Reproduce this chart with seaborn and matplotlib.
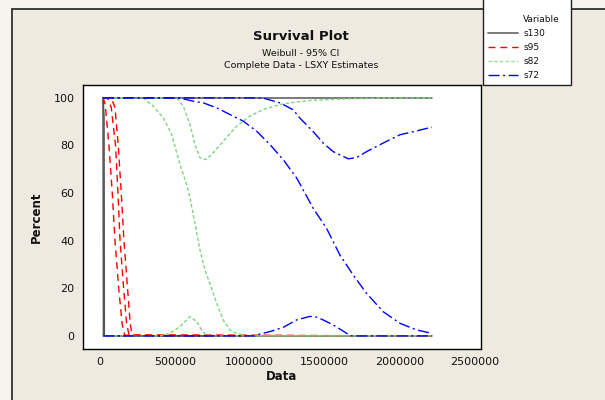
import matplotlib
matplotlib.use("Agg")
import matplotlib.pyplot as plt
from matplotlib.lines import Line2D
from matplotlib.patches import Rectangle
import seaborn as sns
import pandas as pd

# Values (Data, Percent)
s130_lo_x = [20000, 21500, 23000, 2216000]
s130_lo_y = [100, 50, 0, 0]
s130_fit_x = [20000, 27000, 29000, 2216000]
s130_fit_y = [100, 92, 0, 0]
s130_hi_x = [20000, 2216000]
s130_hi_y = [100, 100]

s95_lo_x = [20000, 22000, 35000, 60000, 82000, 100000, 125000, 148000, 165000, 2216000]
s95_lo_y = [100, 100, 97, 80, 60, 40, 20, 5, 0.3, 0]
s95_fit_x = [20000, 50000, 75000, 104000, 120000, 134000, 158000, 178000, 195000, 2216000]
s95_fit_y = [100, 100, 96, 80, 60, 40, 20, 5, 0.3, 0]
s95_hi_x = [20000, 75000, 100000, 122000, 142000, 160000, 184000, 202000, 215000, 2216000]
s95_hi_y = [100, 100, 96, 80, 60, 40, 20, 5, 0.3, 0]

s82_lo_x = [20000, 400000, 467000, 534000, 601000, 645000, 679000, 701000, 734000, 2216000]
s82_lo_y = [0, 0, 1.1, 3.9, 8.1, 6, 2.5, 0.8, 0, 0]
s82_fit_x = [20000, 200000, 289000, 356000, 423000, 479000, 534000, 579000, 601000, 635000,
             668000, 701000, 734000, 779000, 823000, 868000, 913000, 979000, 2216000]
s82_fit_y = [100, 100, 99.9, 96.5, 91.6, 84.6, 72, 63.6, 58, 47,
             36, 27.7, 22, 13.7, 6.7, 2.5, 1, 0, 0]
s82_hi_x = [20000, 512000, 556000, 601000, 634000, 668000, 708000, 756000, 823000, 913000,
            1001000, 1090000, 1202000, 1313000, 1402000, 1600000, 1900000, 2216000]
s82_hi_y = [100, 100, 96.5, 88.8, 80.4, 74.8, 74.1, 76.9, 81.8, 88.1,
            92.3, 95.1, 97.2, 98.3, 98.9, 99.5, 99.9, 100]

s72_lo_x = [20000, 1035000, 1068000, 1135000, 1224000, 1313000, 1402000, 1447000, 1491000,
            1558000, 1647000, 1682000, 2216000]
s72_lo_y = [0, 0, 0.8, 1.8, 3.6, 6.7, 8.2, 7.9, 6.7, 4.6, 1.1, 0, 0]
s72_fit_x = [20000, 450000, 534000, 623000, 690000, 779000, 868000, 957000, 1046000, 1135000,
             1224000, 1313000, 1424000, 1513000, 1602000, 1691000, 1780000, 1891000, 2003000,
             2114000, 2216000]
s72_fit_y = [100, 100, 99.9, 98.6, 97.9, 95.8, 93, 90.2, 86, 80.4,
             74, 66.4, 53.6, 45.2, 34, 25.6, 17.9, 10.2, 5.3, 2.5, 1.1]
s72_hi_x = [20000, 1000000, 1090000, 1202000, 1290000, 1335000, 1424000, 1491000, 1558000,
            1658000, 1714000, 1780000, 1891000, 2003000, 2114000, 2216000]
s72_hi_y = [100, 100, 99.9, 97.9, 95.0, 91.5, 85.8, 81, 77.4, 74.4, 74.9, 77.4, 81, 84.5, 86.1, 87.7]

variables = ["s130", "s95", "s82", "s72"]
x_ticks = [0, 500000, 1000000, 1500000, 2000000, 2500000]
x_tick_labels = ["0", "500000", "1000000", "1500000", "2000000", "2500000"]
y_ticks = [0, 20, 40, 60, 80, 100]

curves = {
    "s130": [(s130_lo_x, s130_lo_y), (s130_fit_x, s130_fit_y), (s130_hi_x, s130_hi_y)],
    "s95": [(s95_lo_x, s95_lo_y), (s95_fit_x, s95_fit_y), (s95_hi_x, s95_hi_y)],
    "s82": [(s82_lo_x, s82_lo_y), (s82_fit_x, s82_fit_y), (s82_hi_x, s82_hi_y)],
    "s72": [(s72_lo_x, s72_lo_y), (s72_fit_x, s72_fit_y), (s72_hi_x, s72_hi_y)],
}

styles = {
    "s130": dict(color="#555555", linestyle="-", lw=1.1),
    "s95": dict(color="#FF0000", linestyle=(0, (5, 3.5)), lw=1.0),
    "s82": dict(color="#80D480", linestyle=(0, (2.5, 1.6)), lw=1.0),
    "s72": dict(color="#0000FF", linestyle=(0, (8, 2.5, 1.5, 2.5)), lw=1.0),
}
legend_colors = {"s130": "#707070", "s95": "#FF0000", "s82": "#9CE09C", "s72": "#0000FF"}

sns.set_style("white")
plt.rcParams["font.family"] = ["DejaVu Sans"]
plt.rcParams["text.color"] = "#111111"
plt.rcParams["axes.labelcolor"] = "#111111"
plt.rcParams["xtick.color"] = "#111111"
plt.rcParams["ytick.color"] = "#111111"

fig = plt.figure(figsize=(6.05, 4.0), dpi=100)
fig.patch.set_facecolor("#F6F4EF")

# panel frame (top-left edge visible)
fig.patches.append(Rectangle((12 / 605, -0.1), 1.0, 1 - 9 / 400 + 0.1, transform=fig.transFigure,
                             facecolor="#EEEAE0", edgecolor="#303030", lw=1.3, zorder=0))

ax = fig.add_axes([83 / 605, 51 / 400, 398 / 605, 264 / 400])
ax.set_zorder(1)
ax.set_facecolor("white")

for var in variables:
    for xs, ys in curves[var]:
        df = pd.DataFrame({"Data": xs, "Percent": ys})
        st = styles[var]
        sns.lineplot(data=df, x="Data", y="Percent", ax=ax, estimator=None, sort=False,
                     color=st["color"], linestyle=st["linestyle"], linewidth=st["lw"])

ax.set_xlim(-113500, 2544700)
ax.set_ylim(-5.5, 105.4)
ax.set_xticks(x_ticks)
ax.set_xticklabels(x_tick_labels)
ax.set_yticks(y_ticks)
ax.tick_params(direction="out", length=4, width=1, color="black", labelsize=8, pad=2)
for sp in ax.spines.values():
    sp.set_visible(True)
    sp.set_color("black")
    sp.set_linewidth(1.0)
ax.set_xlabel("Data", fontsize=8.5, fontweight="bold", labelpad=2)
ax.set_ylabel("Percent", fontsize=8.5, fontweight="bold", labelpad=8)

fig.text(301 / 605, 1 - 37 / 400, "Survival Plot", ha="center", va="center",
         fontsize=9.5, fontweight="bold")
fig.text(301 / 605, 1 - 53 / 400, "Weibull - 95% CI", ha="center", va="center", fontsize=6.8)
fig.text(301 / 605, 1 - 66 / 400, "Complete Data - LSXY Estimates", ha="center", va="center",
         fontsize=6.8)

# legend box
fig.patches.append(Rectangle((483 / 605, 1 - 85 / 400), 88 / 605, 0.3, transform=fig.transFigure,
                             facecolor="white", edgecolor="#202020", lw=1.0, zorder=2))
fig.text(523 / 605, 1 - 19 / 400, "Variable", ha="left", va="center", fontsize=6.5, zorder=3)
handles = [Line2D([], [], color=legend_colors[v], linestyle=styles[v]["linestyle"],
                  lw=1.3 if v == "s130" else 1.0) for v in variables]
leg = fig.legend(handles, variables, loc="upper left", bbox_to_anchor=(488 / 605, 1 - 29 / 400),
                 frameon=False, fontsize=6.5, handlelength=3.3, handletextpad=0.6,
                 labelspacing=0.55, borderpad=0, borderaxespad=0)
leg.set_zorder(4)

fig.savefig("out.png", dpi=100, facecolor=fig.get_facecolor())
